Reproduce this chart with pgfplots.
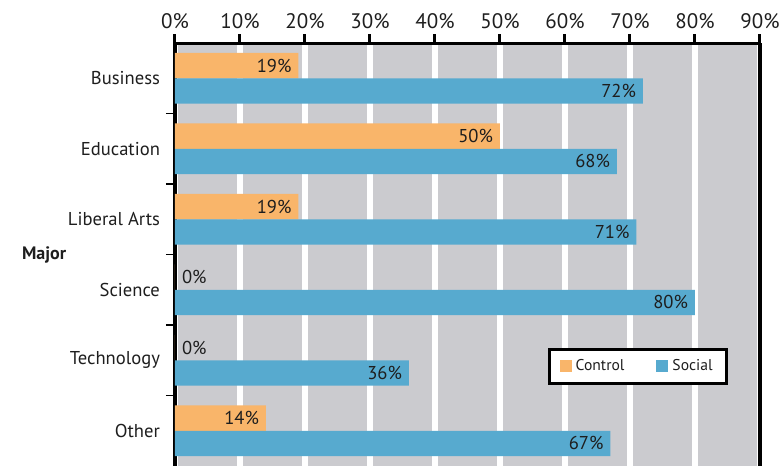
\documentclass[border=0pt]{standalone}
\usepackage{fontspec}
\setmainfont{PT Sans}
\usepackage{pgfplots}
\usepackage{pgfplotstable}
\pgfplotsset{compat=1.18}
\definecolor{ctrl}{RGB}{249,181,106}
\definecolor{soc}{RGB}{87,170,207}
\definecolor{bg}{RGB}{203,203,207}
\definecolor{txt}{RGB}{30,30,30}

\pgfplotstableread{
y ctrl soc
0 19 72
1 50 68
2 19 71
3 0 80
4 0 36
5 14 67
}\datatable

\begin{document}
\begin{tikzpicture}
\useasboundingbox (-87.5pt,0pt) rectangle (304pt,233pt);
\begin{axis}[
  at={(0pt,0pt)}, anchor=south west,
  scale only axis, width=292.5pt, height=211.5pt,
  xbar,
  xmin=0, xmax=90, ymin=-0.5, ymax=5.5, y dir=reverse,
  axis x line=top, axis y line=box,
  x axis line style={-, line width=1.5pt},
  y axis line style={-, line width=1.8pt},
  axis background/.style={fill=bg},
  /pgf/number format/assume math mode=true,
  xtick={0,10,...,90},
  xticklabel={\pgfmathprintnumber{\tick}\%},
  xticklabel style={font=\fontsize{10.5}{12}\selectfont, text=txt, yshift=-1pt},
  xtick style={line width=1.5pt, black},
  major tick length=4.5pt,
  tick align=outside,
  xmajorgrids, grid style={white, line width=3pt},
  ytick={0.5,1.5,2.5,3.5,4.5},
  yticklabels={},
  ytick pos=left,
  ytick style={line width=0.9pt, black},
  extra y ticks={0,1,2,3,4,5},
  extra y tick labels={Business,Education,Liberal Arts,Science,Technology,Other},
  extra y tick style={major tick length=0pt, yticklabel style={font=\fontsize{9.3}{11}\selectfont, text=txt, xshift=-4pt}},
  ylabel={\textbf{Major}},
  every axis y label/.style={at={(axis description cs:0,0.5)}, anchor=west, xshift=-80pt, font=\fontsize{9}{11}\selectfont, text=txt},
  bar width=0.36,
  nodes near coords={\pgfmathprintnumber{\pgfplotspointmeta}\%},
  point meta=x,
  visualization depends on={x \as \xv},
  nodes near coords style={font=\fontsize{9.3}{11}\selectfont, text=txt},
  every node near coord/.append code={\ifdim\xv pt>0.5pt \pgfkeysalso{anchor=east}\else\pgfkeysalso{anchor=west}\fi},
  legend style={at={(axis cs:85.1,4.35)}, anchor=south east, draw=black, line width=1.5pt, fill=white,
    font=\fontsize{7.8}{9}\selectfont, text=txt, inner xsep=5pt, inner ysep=3pt,
    /tikz/every even column/.append style={column sep=14pt}},
  legend columns=2,
  legend image code/.code={\fill[#1] (0pt,-3pt) rectangle (6pt,3pt);},
]
\addplot[fill=ctrl, draw=none, bar shift=-0.18] table[x=ctrl, y=y] {\datatable};
\addplot[fill=soc, draw=none, bar shift=0.18] table[x=soc, y=y] {\datatable};
\legend{Control, Social}
\end{axis}
\end{tikzpicture}
\end{document}
